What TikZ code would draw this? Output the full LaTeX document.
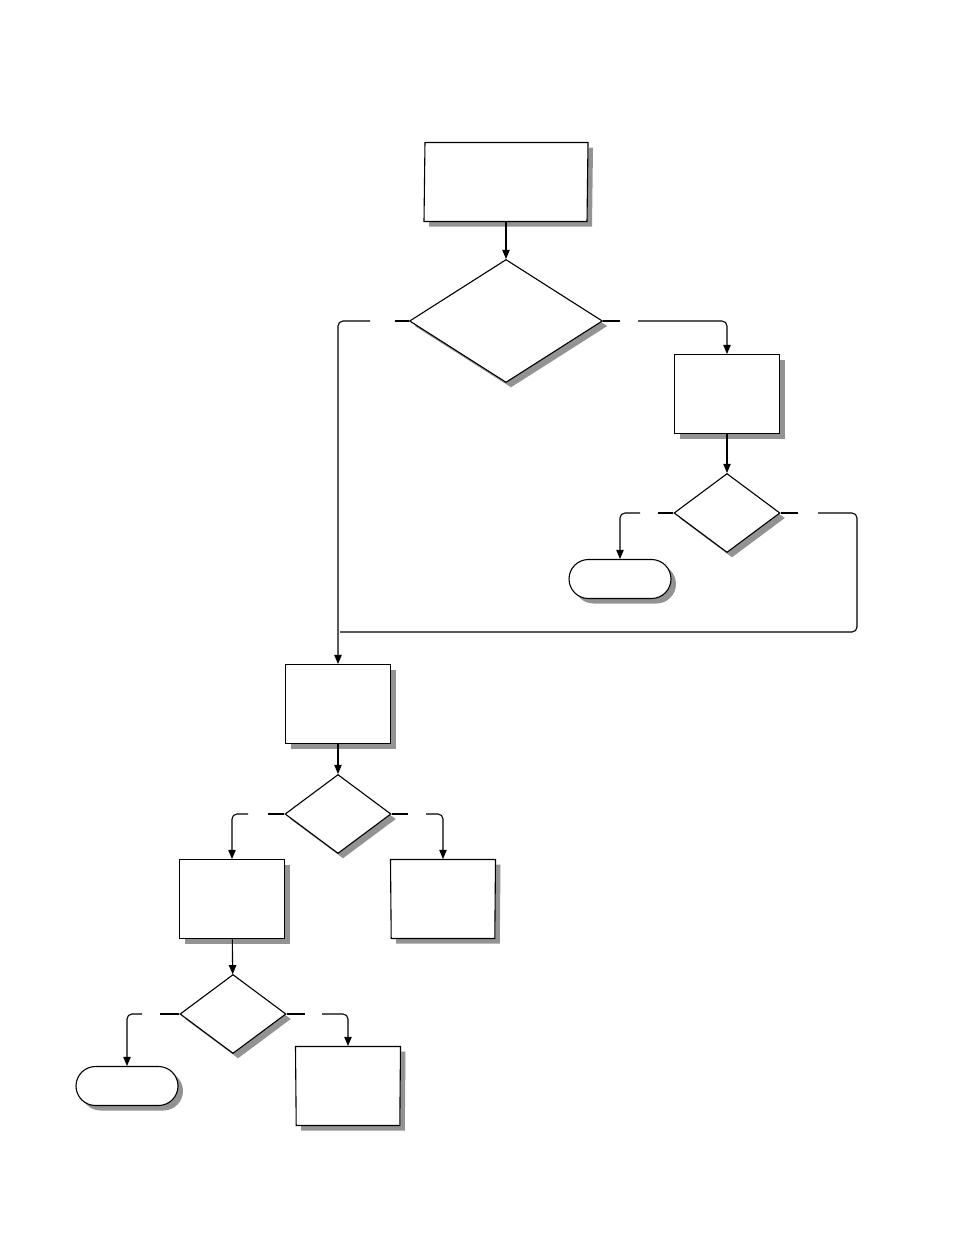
\documentclass[tikz,border=0pt]{standalone}
\usetikzlibrary{arrows,positioning,shapes,shadows}
\begin{document}
\begin{tikzpicture}[x=1pt, y=-1pt, >=triangle 45, semithick,
    every node/.style={draw, fill=white, inner sep=1pt, line width=1.1pt,
        drop shadow={shadow xshift=5pt, shadow yshift=-5pt, fill=gray!85, opacity=1}},
    proc/.style={rectangle, minimum width=105pt, minimum height=79pt},
    decide/.style={diamond, minimum width=106pt, minimum height=79pt},
    term/.style={rounded rectangle, minimum width=104pt, minimum height=39pt},
    io/.style={trapezium, trapezium left angle=63.7, trapezium right angle=116.3,
        trapezium stretches body=true, minimum width=164pt, minimum height=79pt},
    store/.style={trapezium, trapezium angle=70.5, shape border rotate=180,
        trapezium stretches body=true, minimum width=105pt, minimum height=79pt},
    link/.style={line width=1.1pt, rounded corners=5pt}
    ]
\useasboundingbox (0,0) rectangle (954,1235);
\node[io] (input) at (506,182) {};
\node[decide, minimum width=193pt, minimum height=123pt] (check1) at (506,321) {};
\node[proc] (work1) at (727,394) {};
\node[decide] (check2) at (727,513) {};
\node[term] (stop1) at (620,579) {};
\node[proc] (work2) at (338,704) {};
\node[decide] (check3) at (338,814) {};
\node[proc] (work3) at (232,899) {};
\node[store] (out1) at (443,899) {};
\node[decide] (check4) at (233,1014) {};
\node[term] (stop2) at (127,1086) {};
\node[store] (out2) at (348,1086) {};

% connectors
\draw[link,->] (input) -- (check1);
\draw[link] (check1.west) -- (395,321);
\draw[link,->] (370,321) -| (work2.north);
\draw[link] (check1.east) -- (620,321);
\draw[link,->] (638,321) -| (work1.north);
\draw[link,->] (work1) -- (check2);
\draw[link] (check2.west) -- (658,513);
\draw[link,->] (640,513) -| (stop1.north);
\draw[link] (check2.east) -- (798,513);
\draw[link] (818,513) -| (857,632) -- (340,632);
\draw[link,->] (work2) -- (check3);
\draw[link] (check3.west) -- (268,814);
\draw[link,->] (248,814) -| (work3.north);
\draw[link] (check3.east) -- (408,814);
\draw[link,->] (426,814) -| (out1.north);
\draw[link,->] (work3) -- (check4);
\draw[link] (check4.west) -- (160,1014);
\draw[link,->] (142,1014) -| (stop2.north);
\draw[link] (check4.east) -- (305,1014);
\draw[link,->] (322,1014) -| (out2.north);
\end{tikzpicture}
\end{document}
